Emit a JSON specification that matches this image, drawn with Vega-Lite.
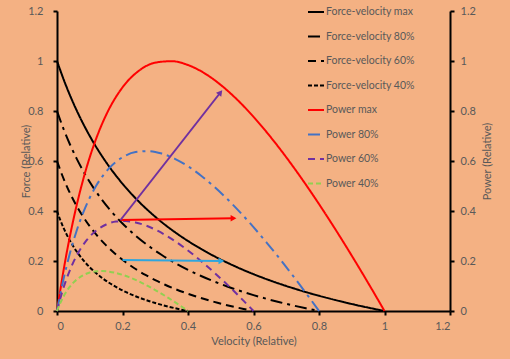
{
  "$schema": "https://vega.github.io/schema/vega-lite/v6.json",
  "width": 393,
  "height": 300,
  "autosize": {"type": "none"},
  "padding": {"left": 57, "top": 11, "right": 60, "bottom": 48},
  "background": "#F4B183",
  "config": {
    "view": {"stroke": null},
    "font": "Lato",
    "axis": {
      "labelColor": "#595959", "titleColor": "#595959",
      "labelFont": "Lato", "titleFont": "Lato",
      "labelFontSize": 11, "titleFontSize": 11, "titleFontWeight": "normal",
      "domainColor": "#000000", "domainWidth": 2,
      "tickColor": "#000000", "tickWidth": 2, "tickSize": 4, "grid": false
    }
  },
  "datasets": {
    "force": [
      {"s":"Force-velocity max","v":0,"y":1},{"s":"Force-velocity max","v":0.025,"y":0.91},{"s":"Force-velocity max","v":0.05,"y":0.8313},{"s":"Force-velocity max","v":0.075,"y":0.7618},{"s":"Force-velocity max","v":0.1,"y":0.7},{"s":"Force-velocity max","v":0.125,"y":0.6447},{"s":"Force-velocity max","v":0.15,"y":0.595},{"s":"Force-velocity max","v":0.2,"y":0.5091},{"s":"Force-velocity max","v":0.25,"y":0.4375},{"s":"Force-velocity max","v":0.3,"y":0.3769},{"s":"Force-velocity max","v":0.35,"y":0.325},{"s":"Force-velocity max","v":0.4,"y":0.28},{"s":"Force-velocity max","v":0.45,"y":0.2406},{"s":"Force-velocity max","v":0.5,"y":0.2059},{"s":"Force-velocity max","v":0.55,"y":0.175},{"s":"Force-velocity max","v":0.6,"y":0.1474},{"s":"Force-velocity max","v":0.65,"y":0.1225},{"s":"Force-velocity max","v":0.7,"y":0.1},{"s":"Force-velocity max","v":0.75,"y":0.0795},{"s":"Force-velocity max","v":0.8,"y":0.0609},{"s":"Force-velocity max","v":0.85,"y":0.0438},{"s":"Force-velocity max","v":0.9,"y":0.028},{"s":"Force-velocity max","v":0.95,"y":0.0135},{"s":"Force-velocity max","v":1,"y":0},
      {"s":"Force-velocity 80%","v":0,"y":0.8},{"s":"Force-velocity 80%","v":0.02,"y":0.728},{"s":"Force-velocity 80%","v":0.04,"y":0.665},{"s":"Force-velocity 80%","v":0.06,"y":0.6094},{"s":"Force-velocity 80%","v":0.08,"y":0.56},{"s":"Force-velocity 80%","v":0.1,"y":0.5158},{"s":"Force-velocity 80%","v":0.12,"y":0.476},{"s":"Force-velocity 80%","v":0.16,"y":0.4073},{"s":"Force-velocity 80%","v":0.2,"y":0.35},{"s":"Force-velocity 80%","v":0.24,"y":0.3015},{"s":"Force-velocity 80%","v":0.28,"y":0.26},{"s":"Force-velocity 80%","v":0.32,"y":0.224},{"s":"Force-velocity 80%","v":0.36,"y":0.1925},{"s":"Force-velocity 80%","v":0.4,"y":0.1647},{"s":"Force-velocity 80%","v":0.44,"y":0.14},{"s":"Force-velocity 80%","v":0.48,"y":0.1179},{"s":"Force-velocity 80%","v":0.52,"y":0.098},{"s":"Force-velocity 80%","v":0.56,"y":0.08},{"s":"Force-velocity 80%","v":0.6,"y":0.0636},{"s":"Force-velocity 80%","v":0.64,"y":0.0487},{"s":"Force-velocity 80%","v":0.68,"y":0.035},{"s":"Force-velocity 80%","v":0.72,"y":0.0224},{"s":"Force-velocity 80%","v":0.76,"y":0.0108},{"s":"Force-velocity 80%","v":0.8,"y":0},
      {"s":"Force-velocity 60%","v":0,"y":0.6},{"s":"Force-velocity 60%","v":0.015,"y":0.546},{"s":"Force-velocity 60%","v":0.03,"y":0.4988},{"s":"Force-velocity 60%","v":0.045,"y":0.4571},{"s":"Force-velocity 60%","v":0.06,"y":0.42},{"s":"Force-velocity 60%","v":0.075,"y":0.3868},{"s":"Force-velocity 60%","v":0.09,"y":0.357},{"s":"Force-velocity 60%","v":0.12,"y":0.3055},{"s":"Force-velocity 60%","v":0.15,"y":0.2625},{"s":"Force-velocity 60%","v":0.18,"y":0.2261},{"s":"Force-velocity 60%","v":0.21,"y":0.195},{"s":"Force-velocity 60%","v":0.24,"y":0.168},{"s":"Force-velocity 60%","v":0.27,"y":0.1444},{"s":"Force-velocity 60%","v":0.3,"y":0.1235},{"s":"Force-velocity 60%","v":0.33,"y":0.105},{"s":"Force-velocity 60%","v":0.36,"y":0.0884},{"s":"Force-velocity 60%","v":0.39,"y":0.0735},{"s":"Force-velocity 60%","v":0.42,"y":0.06},{"s":"Force-velocity 60%","v":0.45,"y":0.0477},{"s":"Force-velocity 60%","v":0.48,"y":0.0365},{"s":"Force-velocity 60%","v":0.51,"y":0.0263},{"s":"Force-velocity 60%","v":0.54,"y":0.0168},{"s":"Force-velocity 60%","v":0.57,"y":0.0081},{"s":"Force-velocity 60%","v":0.6,"y":0},
      {"s":"Force-velocity 40%","v":0,"y":0.4},{"s":"Force-velocity 40%","v":0.01,"y":0.364},{"s":"Force-velocity 40%","v":0.02,"y":0.3325},{"s":"Force-velocity 40%","v":0.03,"y":0.3047},{"s":"Force-velocity 40%","v":0.04,"y":0.28},{"s":"Force-velocity 40%","v":0.05,"y":0.2579},{"s":"Force-velocity 40%","v":0.06,"y":0.238},{"s":"Force-velocity 40%","v":0.08,"y":0.2036},{"s":"Force-velocity 40%","v":0.1,"y":0.175},{"s":"Force-velocity 40%","v":0.12,"y":0.1508},{"s":"Force-velocity 40%","v":0.14,"y":0.13},{"s":"Force-velocity 40%","v":0.16,"y":0.112},{"s":"Force-velocity 40%","v":0.18,"y":0.0963},{"s":"Force-velocity 40%","v":0.2,"y":0.0824},{"s":"Force-velocity 40%","v":0.22,"y":0.07},{"s":"Force-velocity 40%","v":0.24,"y":0.059},{"s":"Force-velocity 40%","v":0.26,"y":0.049},{"s":"Force-velocity 40%","v":0.28,"y":0.04},{"s":"Force-velocity 40%","v":0.3,"y":0.0318},{"s":"Force-velocity 40%","v":0.32,"y":0.0244},{"s":"Force-velocity 40%","v":0.34,"y":0.0175},{"s":"Force-velocity 40%","v":0.36,"y":0.0112},{"s":"Force-velocity 40%","v":0.38,"y":0.0054},{"s":"Force-velocity 40%","v":0.4,"y":0}
    ],
    "power": [
      {"s":"Power max","v":0,"y":0},{"s":"Power max","v":0.025,"y":0.1999},{"s":"Power max","v":0.05,"y":0.3651},{"s":"Power max","v":0.075,"y":0.5019},{"s":"Power max","v":0.1,"y":0.615},{"s":"Power max","v":0.125,"y":0.708},{"s":"Power max","v":0.15,"y":0.7841},{"s":"Power max","v":0.2,"y":0.8945},{"s":"Power max","v":0.25,"y":0.9609},{"s":"Power max","v":0.3,"y":0.9934},{"s":"Power max","v":0.35,"y":0.9993},{"s":"Power max","v":0.4,"y":0.9839},{"s":"Power max","v":0.45,"y":0.9513},{"s":"Power max","v":0.5,"y":0.9043},{"s":"Power max","v":0.55,"y":0.8456},{"s":"Power max","v":0.6,"y":0.7768},{"s":"Power max","v":0.65,"y":0.6995},{"s":"Power max","v":0.7,"y":0.615},{"s":"Power max","v":0.75,"y":0.5241},{"s":"Power max","v":0.8,"y":0.4278},{"s":"Power max","v":0.85,"y":0.3267},{"s":"Power max","v":0.9,"y":0.2214},{"s":"Power max","v":0.95,"y":0.1123},{"s":"Power max","v":1,"y":0},
      {"s":"Power 80%","v":0,"y":0},{"s":"Power 80%","v":0.02,"y":0.1279},{"s":"Power 80%","v":0.04,"y":0.2337},{"s":"Power 80%","v":0.06,"y":0.3212},{"s":"Power 80%","v":0.08,"y":0.3936},{"s":"Power 80%","v":0.1,"y":0.4531},{"s":"Power 80%","v":0.12,"y":0.5018},{"s":"Power 80%","v":0.16,"y":0.5725},{"s":"Power 80%","v":0.2,"y":0.615},{"s":"Power 80%","v":0.24,"y":0.6358},{"s":"Power 80%","v":0.28,"y":0.6396},{"s":"Power 80%","v":0.32,"y":0.6297},{"s":"Power 80%","v":0.36,"y":0.6088},{"s":"Power 80%","v":0.4,"y":0.5788},{"s":"Power 80%","v":0.44,"y":0.5412},{"s":"Power 80%","v":0.48,"y":0.4972},{"s":"Power 80%","v":0.52,"y":0.4477},{"s":"Power 80%","v":0.56,"y":0.3936},{"s":"Power 80%","v":0.6,"y":0.3354},{"s":"Power 80%","v":0.64,"y":0.2738},{"s":"Power 80%","v":0.68,"y":0.2091},{"s":"Power 80%","v":0.72,"y":0.1417},{"s":"Power 80%","v":0.76,"y":0.0719},{"s":"Power 80%","v":0.8,"y":0},
      {"s":"Power 60%","v":0,"y":0},{"s":"Power 60%","v":0.015,"y":0.072},{"s":"Power 60%","v":0.03,"y":0.1314},{"s":"Power 60%","v":0.045,"y":0.1807},{"s":"Power 60%","v":0.06,"y":0.2214},{"s":"Power 60%","v":0.075,"y":0.2549},{"s":"Power 60%","v":0.09,"y":0.2823},{"s":"Power 60%","v":0.12,"y":0.322},{"s":"Power 60%","v":0.15,"y":0.3459},{"s":"Power 60%","v":0.18,"y":0.3576},{"s":"Power 60%","v":0.21,"y":0.3597},{"s":"Power 60%","v":0.24,"y":0.3542},{"s":"Power 60%","v":0.27,"y":0.3425},{"s":"Power 60%","v":0.3,"y":0.3255},{"s":"Power 60%","v":0.33,"y":0.3044},{"s":"Power 60%","v":0.36,"y":0.2796},{"s":"Power 60%","v":0.39,"y":0.2518},{"s":"Power 60%","v":0.42,"y":0.2214},{"s":"Power 60%","v":0.45,"y":0.1887},{"s":"Power 60%","v":0.48,"y":0.154},{"s":"Power 60%","v":0.51,"y":0.1176},{"s":"Power 60%","v":0.54,"y":0.0797},{"s":"Power 60%","v":0.57,"y":0.0404},{"s":"Power 60%","v":0.6,"y":0},
      {"s":"Power 40%","v":0,"y":0},{"s":"Power 40%","v":0.01,"y":0.032},{"s":"Power 40%","v":0.02,"y":0.0584},{"s":"Power 40%","v":0.03,"y":0.0803},{"s":"Power 40%","v":0.04,"y":0.0984},{"s":"Power 40%","v":0.05,"y":0.1133},{"s":"Power 40%","v":0.06,"y":0.1255},{"s":"Power 40%","v":0.08,"y":0.1431},{"s":"Power 40%","v":0.1,"y":0.1537},{"s":"Power 40%","v":0.12,"y":0.1589},{"s":"Power 40%","v":0.14,"y":0.1599},{"s":"Power 40%","v":0.16,"y":0.1574},{"s":"Power 40%","v":0.18,"y":0.1522},{"s":"Power 40%","v":0.2,"y":0.1447},{"s":"Power 40%","v":0.22,"y":0.1353},{"s":"Power 40%","v":0.24,"y":0.1243},{"s":"Power 40%","v":0.26,"y":0.1119},{"s":"Power 40%","v":0.28,"y":0.0984},{"s":"Power 40%","v":0.3,"y":0.0839},{"s":"Power 40%","v":0.32,"y":0.0684},{"s":"Power 40%","v":0.34,"y":0.0523},{"s":"Power 40%","v":0.36,"y":0.0354},{"s":"Power 40%","v":0.38,"y":0.018},{"s":"Power 40%","v":0.4,"y":0}
    ],
    "arrows": [
      {"a":"red","o":1,"v":0.194,"y":0.364},{"a":"red","o":2,"v":0.539,"y":0.371},
      {"a":"purple","o":1,"v":0.194,"y":0.364},{"a":"purple","o":2,"v":0.499,"y":0.874},
      {"a":"blue","o":1,"v":0.2,"y":0.204},{"a":"blue","o":2,"v":0.502,"y":0.2}
    ]
  },
  "layer": [
    {
      "data": {"name": "force"},
      "mark": {"type": "line", "strokeWidth": 2, "interpolate": "monotone"},
      "encoding": {
        "x": {"field": "v", "type": "quantitative", "scale": {"domain": [0, 1.2], "nice": false},
          "axis": {"values": [0,0.2,0.4,0.6,0.8,1,1.2], "format": "~g", "title": "Velocity (Relative)", "labelPadding": 5, "titlePadding": 4}},
        "y": {"field": "y", "type": "quantitative", "scale": {"domain": [0, 1.2], "nice": false},
          "axis": {"values": [0,0.2,0.4,0.6,0.8,1,1.2], "format": "~g", "title": "Force (Relative)", "labelPadding": 10, "titleX": -31, "titleY": 150, "titleBaseline": "middle", "titleAlign": "center", "titleAngle": 270}},
        "color": {"field": "s", "type": "nominal",
          "scale": {"domain": ["Force-velocity max","Force-velocity 80%","Force-velocity 60%","Force-velocity 40%","Power max","Power 80%","Power 60%","Power 40%"],
                    "range": ["#000000","#000000","#000000","#000000","#FF0000","#4472C4","#7030A0","#92D050"]},
          "legend": {"title": null, "orient": "none", "legendX": 250, "legendY": -8, "symbolType": "stroke", "symbolSize": 256, "symbolStrokeWidth": 2, "labelFontSize": 10.5, "labelColor": "#595959", "labelFont": "Lato", "rowPadding": 9.5, "labelOffset": 1}},
        "strokeDash": {"field": "s", "type": "nominal",
          "scale": {"domain": ["Force-velocity max","Force-velocity 80%","Force-velocity 60%","Force-velocity 40%","Power max","Power 80%","Power 60%","Power 40%"],
                    "range": [[1,0],[12,5,3,5],[8,5],[4,2],[1,0],[12,5,3,5],[7,5],[5,3]]},
          "legend": {"title": null, "orient": "none", "legendX": 250, "legendY": -8, "symbolType": "stroke", "symbolSize": 256, "symbolStrokeWidth": 2, "labelFontSize": 10.5, "labelColor": "#595959", "labelFont": "Lato", "rowPadding": 9.5, "labelOffset": 1}}
      }
    },
    {
      "data": {"name": "power"},
      "mark": {"type": "line", "strokeWidth": 2, "interpolate": "monotone"},
      "encoding": {
        "x": {"field": "v", "type": "quantitative"},
        "y": {"field": "y", "type": "quantitative", "scale": {"domain": [0, 1.2], "nice": false},
          "axis": {"orient": "right", "values": [0,0.2,0.4,0.6,0.8,1,1.2], "format": "~g", "title": "Power (Relative)", "titleAngle": 270, "labelPadding": 6, "titlePadding": 17}},
        "color": {"field": "s", "type": "nominal"},
        "strokeDash": {"field": "s", "type": "nominal"}
      }
    },
    {
      "data": {"name": "arrows"},
      "transform": [{"filter": "datum.a == 'red'"}],
      "mark": {"type": "line", "strokeWidth": 2, "color": "#FF0000"},
      "encoding": {
        "x": {"field": "v", "type": "quantitative"},
        "y": {"field": "y", "type": "quantitative", "scale": {"domain": [0, 1.2], "nice": false}, "axis": null},
        "order": {"field": "o"}
      }
    },
    {
      "data": {"name": "arrows"},
      "transform": [{"filter": "datum.a == 'purple'"}],
      "mark": {"type": "line", "strokeWidth": 2, "color": "#7030A0"},
      "encoding": {
        "x": {"field": "v", "type": "quantitative"},
        "y": {"field": "y", "type": "quantitative", "scale": {"domain": [0, 1.2], "nice": false}, "axis": null},
        "order": {"field": "o"}
      }
    },
    {
      "data": {"name": "arrows"},
      "transform": [{"filter": "datum.a == 'blue'"}],
      "mark": {"type": "line", "strokeWidth": 2, "color": "#2FA6DE"},
      "encoding": {
        "x": {"field": "v", "type": "quantitative"},
        "y": {"field": "y", "type": "quantitative", "scale": {"domain": [0, 1.2], "nice": false}, "axis": null},
        "order": {"field": "o"}
      }
    },
    {
      "data": {"name": "arrows"},
      "transform": [{"filter": "datum.a == 'red' && datum.o == 2"}],
      "mark": {"type": "point", "shape": "triangle-right", "filled": true, "size": 45, "color": "#FF0000", "opacity": 1},
      "encoding": {
        "x": {"field": "v", "type": "quantitative"},
        "y": {"field": "y", "type": "quantitative", "scale": {"domain": [0, 1.2], "nice": false}, "axis": null}
      }
    },
    {
      "data": {"name": "arrows"},
      "transform": [{"filter": "datum.a == 'blue' && datum.o == 2"}],
      "mark": {"type": "point", "shape": "triangle-right", "filled": true, "size": 45, "color": "#2FA6DE", "opacity": 1},
      "encoding": {
        "x": {"field": "v", "type": "quantitative"},
        "y": {"field": "y", "type": "quantitative", "scale": {"domain": [0, 1.2], "nice": false}, "axis": null}
      }
    },
    {
      "data": {"name": "arrows"},
      "transform": [{"filter": "datum.a == 'purple' && datum.o == 2"}],
      "mark": {"type": "point", "shape": "triangle-up", "angle": 38, "filled": true, "size": 45, "color": "#7030A0", "opacity": 1},
      "encoding": {
        "x": {"field": "v", "type": "quantitative"},
        "y": {"field": "y", "type": "quantitative", "scale": {"domain": [0, 1.2], "nice": false}, "axis": null}
      }
    }
  ],
  "resolve": {"scale": {"y": "independent"}}
}
